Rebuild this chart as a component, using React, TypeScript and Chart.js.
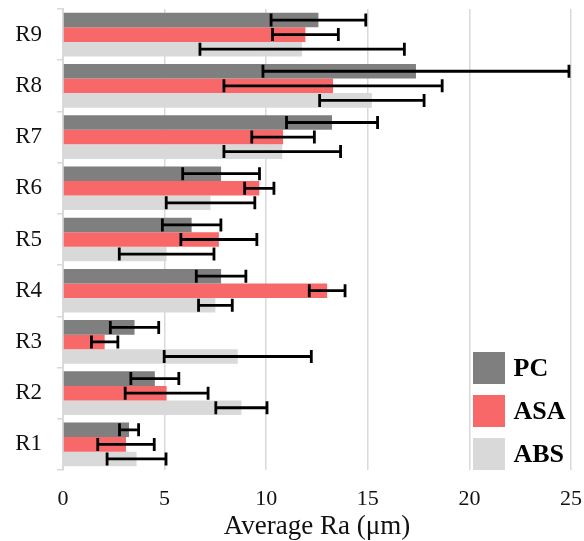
import React, { useEffect, useRef } from "react";
import { Chart, registerables } from "chart.js";

Chart.register(...registerables);

const categories = ["R1", "R2", "R3", "R4", "R5", "R6", "R7", "R8", "R9"];
const seriesNames = ["PC", "ASA", "ABS"];
const pcValues = [3.25, 4.52, 3.52, 7.78, 6.33, 7.78, 13.24, 17.37, 12.57];
const pcErrors = [0.47, 1.18, 1.19, 1.22, 1.44, 1.89, 2.24, 7.53, 2.33];
const asaValues = [3.1, 5.1, 2.05, 13.0, 7.67, 9.66, 10.83, 13.29, 11.93];
const asaErrors = [1.39, 2.04, 0.65, 0.88, 1.87, 0.72, 1.54, 5.37, 1.62];
const absValues = [3.62, 8.78, 8.6, 7.5, 5.1, 7.26, 10.79, 15.2, 11.77];
const absErrors = [1.45, 1.26, 3.62, 0.83, 2.33, 2.18, 2.87, 2.57, 5.03];
const xTicks = [0, 5, 10, 15, 20, 25];
const xTitle = "Average Ra (μm)";

const colors = ["#7f7f7f", "#f96868", "#d9d9d9"];
const FONT = "'Liberation Serif', 'Times New Roman', serif";

const errorBarPlugin = {
  id: "errorBars",
  afterDatasetsDraw(chart: any) {
    const ctx = chart.ctx;
    const xScale = chart.scales.x;
    chart.data.datasets.forEach((ds: any, di: number) => {
      const meta = chart.getDatasetMeta(di);
      if (!ds.errors) return;
      meta.data.forEach((bar: any, i: number) => {
        const v = ds.data[i];
        const e = ds.errors[i];
        const x1 = xScale.getPixelForValue(v - e);
        const x2 = xScale.getPixelForValue(v + e);
        const y = bar.y;
        const cap = 6.5;
        ctx.save();
        ctx.strokeStyle = "#000";
        ctx.lineWidth = 2.8;
        ctx.beginPath();
        ctx.moveTo(x1, y);
        ctx.lineTo(x2, y);
        ctx.moveTo(x1, y - cap);
        ctx.lineTo(x1, y + cap);
        ctx.moveTo(x2, y - cap);
        ctx.lineTo(x2, y + cap);
        ctx.stroke();
        ctx.restore();
      });
    });
  },
};

const legendPlugin = {
  id: "insideLegend",
  afterDraw(chart: any) {
    const ctx = chart.ctx;
    const area = chart.chartArea;
    const box = 32;
    const pitch = 43;
    const left = area.right - 98;
    const n = chart.data.datasets.length;
    ctx.save();
    chart.data.datasets.forEach((ds: any, i: number) => {
      const top = area.bottom - box - (n - 1 - i) * pitch;
      ctx.fillStyle = ds.backgroundColor;
      ctx.fillRect(left, top, box, box);
      ctx.fillStyle = "#000";
      ctx.font = `bold 26px ${FONT}`;
      ctx.textBaseline = "middle";
      ctx.textAlign = "left";
      ctx.fillText(ds.label, left + box + 8.5, top + box / 2 + 1.5);
    });
    ctx.restore();
  },
};

export default function App() {
  const ref = useRef<HTMLCanvasElement>(null);
  useEffect(() => {
    if (!ref.current) return;
    const valueSets = [pcValues, asaValues, absValues];
    const errorSets = [pcErrors, asaErrors, absErrors];
    const chart = new Chart(ref.current, {
      type: "bar",
      data: {
        labels: categories,
        datasets: seriesNames.map((name, i) => ({
          label: name,
          data: valueSets[i],
          errors: errorSets[i],
          backgroundColor: colors[i],
          borderWidth: 0,
          categoryPercentage: 0.853,
          barPercentage: 1,
        })) as any,
      },
      options: {
        indexAxis: "y",
        animation: false,
        responsive: false,
        maintainAspectRatio: false,
        layout: { padding: { top: 9, right: 13, left: 0, bottom: 0 } },
        plugins: {
          legend: { display: false },
          tooltip: { enabled: false },
        },
        scales: {
          x: {
            min: 0,
            max: 25,
            afterBuildTicks: (scale: any) => {
              scale.ticks = xTicks.map((v) => ({ value: v }));
            },
            afterFit: (scale: any) => {
              scale.height = 71;
              scale.paddingLeft = 0;
              scale.paddingRight = 0;
            },
            grid: {
              color: "#d9d9d9",
              lineWidth: 1.5,
              drawTicks: false,
            },
            border: { display: false },
            ticks: {
              color: "#111",
              padding: 16,
              font: { family: FONT, size: 22 },
            },
            title: {
              display: true,
              text: xTitle,
              color: "#111",
              padding: { top: 0, bottom: 1 },
              font: { family: FONT, size: 27, lineHeight: 1 },
            },
          },
          y: {
            reverse: true,
            afterFit: (scale: any) => {
              scale.width = 63;
              scale.paddingTop = 0;
              scale.paddingBottom = 0;
            },
            grid: {
              display: true,
              drawOnChartArea: false,
              offset: true,
              tickLength: 6,
              color: "#d9d9d9",
              lineWidth: 1.5,
            },
            border: { display: true, color: "#d9d9d9", width: 2 },
            ticks: {
              color: "#111",
              padding: 15,
              font: { family: FONT, size: 23 },
            },
          },
        },
      } as any,
      plugins: [errorBarPlugin, legendPlugin],
    });
    return () => chart.destroy();
  }, []);
  return (
    <div style={{ position: "absolute", left: 0, top: 0, width: 584, height: 541, background: "#fff" }}>
      <canvas ref={ref} width={584} height={541} style={{ width: 584, height: 541 }} />
    </div>
  );
}
